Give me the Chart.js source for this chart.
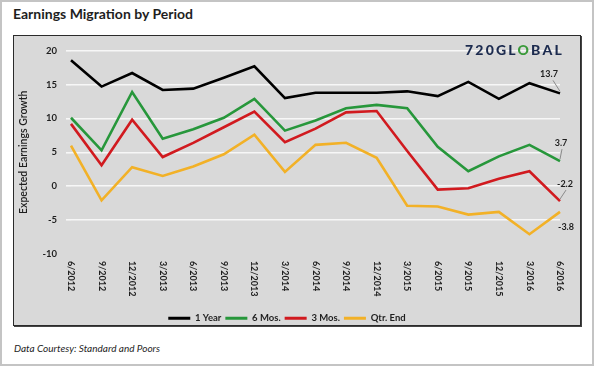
<!DOCTYPE html>
<html>
<head>
<meta charset="utf-8">
<script src="https://cdn.jsdelivr.net/npm/chart.js@4.4.1/dist/chart.umd.min.js"></script>
<style>
  html, body { margin: 0; padding: 0; background: #fff; }
  body { width: 600px; height: 366px; position: relative; overflow: hidden; font-family: Lato, "Liberation Sans", sans-serif; }
  #frame { position: absolute; left: 0; top: 0; width: 590px; height: 362px; border: 2px solid #c4c4c4; }
  #title { position: absolute; left: 13px; top: 5px; font-size: 14px; font-weight: bold; color: #1e1e1e; white-space: nowrap; }
  #box { position: absolute; left: 13px; top: 35px; width: 566px; height: 289px; border: 1px solid #2b2b2b; box-shadow: 1px 1px 0 #444; background: #d9d9d9; overflow: hidden; }
  #box canvas { position: absolute; left: 0; top: 0; }
  #logo { position: absolute; left: 465px; top: 41px; font-size: 14px; font-weight: 900; letter-spacing: 2.2px; color: #1c2b4f; white-space: nowrap; }
  #logo span { color: #3a9a3a; }
  #source { position: absolute; left: 14px; top: 342px; font-size: 10px; font-style: italic; color: #1e1e1e; white-space: nowrap; }
</style>
</head>
<body>
<div id="frame"></div>
<div id="title">Earnings Migration by Period</div>
<div id="box"><canvas id="c" width="566" height="289"></canvas></div>
<div id="logo">720GL<span>O</span>BAL</div>
<div id="source">Data Courtesy: Standard and Poors</div>
<script>
const categories = ['6/2012','9/2012','12/2012','3/2013','6/2013','9/2013','12/2013','3/2014','6/2014','9/2014','12/2014','3/2015','6/2015','9/2015','12/2015','3/2016','6/2016'];
const oneYear  = [18.6, 14.7, 16.7, 14.2, 14.4, 16.0, 17.7, 13.0, 13.8, 13.8, 13.8, 14.0, 13.3, 15.4, 12.9, 15.2, 13.7];
const sixMos   = [10.1, 5.3, 13.9, 7.0, 8.4, 10.1, 12.9, 8.2, 9.7, 11.5, 12.0, 11.5, 5.8, 2.2, 4.4, 6.1, 3.7];
const threeMos = [9.2, 3.1, 9.8, 4.3, 6.4, 8.7, 11.0, 6.5, 8.5, 10.9, 11.1, 5.2, -0.5, -0.3, 1.1, 2.2, -2.2];
const qtrEnd   = [6.0, -2.1, 2.8, 1.5, 2.9, 4.7, 7.6, 2.1, 6.1, 6.4, 4.2, -2.9, -3.0, -4.2, -3.8, -7.1, -3.8];
const seriesNames = ['1 Year', '6 Mos.', '3 Mos.', 'Qtr. End'];
const yTicks = [-10, -5, 0, 5, 10, 15, 20];

const colors = ['#000000', '#27973b', '#d11a1f', '#f2b127'];
// offsets of end labels relative to last point [dx, dy, leader]
const endLabelOffsets = [[-11, -19, true], [1, -18, true], [5, -17, true], [6, 15, false]];

const FONT = 'Lato, "Liberation Sans", sans-serif';

const xLabelsPlugin = {
  id: 'xLabels',
  afterDraw(chart) {
    const ctx = chart.ctx;
    const xs = chart.scales.x;
    const top = chart.chartArea.bottom + 7;
    ctx.save();
    ctx.fillStyle = '#1e1e1e';
    ctx.font = 'bold 9px ' + FONT;
    ctx.textAlign = 'left';
    ctx.textBaseline = 'middle';
    categories.forEach((lab, i) => {
      const x = xs.getPixelForValue(i);
      ctx.save();
      ctx.translate(x, top);
      ctx.rotate(Math.PI / 2);
      ctx.fillText(lab, 0, 0);
      ctx.restore();
    });
    ctx.restore();
  }
};

const endLabelsPlugin = {
  id: 'endLabels',
  afterDatasetsDraw(chart) {
    const ctx = chart.ctx;
    ctx.save();
    chart.data.datasets.forEach((ds, di) => {
      const meta = chart.getDatasetMeta(di);
      const last = meta.data[meta.data.length - 1];
      const v = ds.data[ds.data.length - 1];
      const [dx, dy, leader] = endLabelOffsets[di];
      const lx = last.x + dx, ly = last.y + dy;
      if (leader) {
        ctx.strokeStyle = '#8a8a8a';
        ctx.lineWidth = 1;
        ctx.beginPath();
        const sx = lx + (dx < 0 ? 4 : 1);
        ctx.moveTo(sx, ly + 6);
        ctx.lineTo(last.x, last.y - 2);
        ctx.stroke();
      }
      ctx.fillStyle = '#1e1e1e';
      ctx.font = 'bold 9px ' + FONT;
      ctx.textAlign = 'center';
      ctx.textBaseline = 'middle';
      ctx.fillText(v.toFixed(1), lx, ly);
    });
    ctx.restore();
  }
};

const data = {
  labels: categories,
  datasets: [oneYear, sixMos, threeMos, qtrEnd].map((arr, i) => ({
    label: seriesNames[i],
    data: arr,
    borderColor: colors[i],
    backgroundColor: colors[i],
    borderWidth: 2.6,
    pointRadius: 0,
    tension: 0,
    fill: false
  }))
};

new Chart(document.getElementById('c'), {
  type: 'line',
  data,
  options: {
    responsive: false,
    animation: false,
    events: [],
    layout: { padding: { top: 14, right: 20, bottom: -8, left: 0 } },
    plugins: {
      tooltip: { enabled: false },
      legend: {
        position: 'bottom',
        labels: {
          boxWidth: 22,
          boxHeight: 3,
          padding: 4,
          color: '#1e1e1e',
          font: { family: FONT, size: 9.5, weight: 'bold' },
          generateLabels(chart) {
            const items = Chart.defaults.plugins.legend.labels.generateLabels(chart);
            items.forEach(it => { it.lineWidth = 0; it.strokeStyle = 'rgba(0,0,0,0)'; });
            return items;
          }
        }
      }
    },
    scales: {
      x: {
        type: 'category',
        offset: false,
        grid: { display: false },
        border: { display: false },
        ticks: { display: false },
        afterFit(scale) { scale.height = 55.6; }
      },
      y: {
        min: -10,
        max: 20,
        afterBuildTicks(scale) { scale.ticks = yTicks.map(v => ({ value: v })); },
        grid: {
          color: ctx => (ctx.tick && ctx.tick.value === -10) ? 'rgba(0,0,0,0)' : '#f7f7f7',
          lineWidth: 1.6,
          drawTicks: true,
          tickLength: 5
        },
        border: { display: false },
        ticks: {
          padding: 9,
          color: '#1e1e1e',
          font: { family: FONT, size: 9.5, weight: 'bold' }
        },
        title: {
          display: true,
          text: 'Expected Earnings Growth',
          color: '#1e1e1e',
          padding: { top: 3, bottom: 0 },
          font: { family: FONT, size: 10.5, weight: '600' }
        },
        afterFit(scale) { scale.width = 57; }
      }
    }
  },
  plugins: [xLabelsPlugin, endLabelsPlugin]
});
</script>
</body>
</html>
